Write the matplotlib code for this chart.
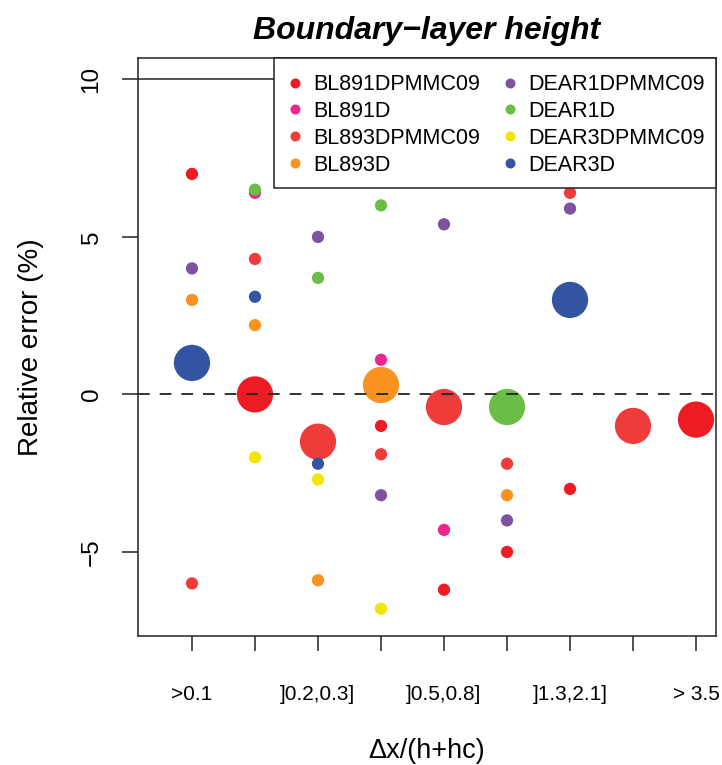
import numpy as np
import matplotlib.pyplot as plt
from matplotlib.lines import Line2D
from matplotlib.patches import Rectangle

plt.rcParams['font.family'] = ['Liberation Sans', 'DejaVu Sans']

# x categories (Δx/(h+hc) classes), only every other one is labelled
categories = [1, 2, 3, 4, 5, 6, 7, 8, 9]
tick_labels = ['>0.1', '', ']0.2,0.3]', '', ']0.5,0.8]', '', ']1.3,2.1]', '', '> 3.5']

series = ['BL891DPMMC09', 'BL891D', 'BL893DPMMC09', 'BL893D',
          'DEAR1DPMMC09', 'DEAR1D', 'DEAR3DPMMC09', 'DEAR3D']
colors = ['#ED1C24', '#EC268F', '#EF3B39', '#F7931E',
          '#7F52A1', '#6ABD45', '#F2E600', '#3353A3']

nan = np.nan
bl891dpmmc09 = [7.0, 0.0, nan, -1.0, -6.2, -5.0, -3.0, nan, -0.8]
bl891d = [nan, 6.4, nan, 1.1, -4.3, nan, nan, nan, nan]
bl893dpmmc09 = [-6.0, 4.3, -1.5, -1.9, -0.4, -2.2, 6.4, -1.0, nan]
bl893d = [3.0, 2.2, -5.9, 0.3, nan, -3.2, nan, nan, nan]
dear1dpmmc09 = [4.0, nan, 5.0, -3.2, 5.4, -4.0, 5.9, nan, nan]
dear1d = [nan, 6.5, 3.7, 6.0, nan, -0.4, nan, nan, nan]
dear3dpmmc09 = [nan, -2.0, -2.7, -6.8, nan, nan, nan, nan, nan]
dear3d = [1.0, 3.1, -2.2, nan, nan, nan, 3.0, nan, nan]
values = [bl891dpmmc09, bl891d, bl893dpmmc09, bl893d,
          dear1dpmmc09, dear1d, dear3dpmmc09, dear3d]

# best configuration in each class (drawn big)
best = ['DEAR3D', 'BL891DPMMC09', 'BL893DPMMC09', 'BL893D', 'BL893DPMMC09',
        'DEAR1D', 'DEAR3D', 'BL893DPMMC09', 'BL891DPMMC09']

fig = plt.figure(figsize=(7.22, 7.65), dpi=100)
ax = fig.add_axes([0.1911, 0.1686, 0.8006, 0.7556])

for name, col, vals in zip(series, colors, values):
    sizes = [680 if b == name else 78 for b in best]
    ax.scatter(categories, vals, s=sizes, color=col, edgecolors='none', zorder=3)

ax.axhline(0, color='#222222', lw=1.3, ls=(0, (6.5, 5.5)), zorder=4)
ax.axhline(10, color='#222222', lw=1.1, zorder=2)

ax.set_xlim(0.143, 9.317)
ax.set_ylim(-7.67, 10.68)
ax.set_xticks(categories)
ax.set_xticklabels(tick_labels, fontsize=15)
ax.set_yticks([-5, 0, 5, 10])
ax.set_yticklabels(['\u22125', '0', '5', '10'], fontsize=17.5, rotation=90, va='center')
ax.tick_params(axis='x', length=11, width=1.1, pad=24, color='#222222')
ax.tick_params(axis='y', length=11.5, width=1.1, pad=14, color='#222222')
for s in ax.spines.values():
    s.set_linewidth(1.1)
    s.set_color('#222222')

ax.set_title('Boundary\u2212layer height', fontsize=23, fontweight='bold',
             fontstyle='italic', pad=14)
ax.set_ylabel('Relative error (%)', fontsize=20, labelpad=26)
ax.set_xlabel('\u0394x/(h+hc)', fontsize=19.5, labelpad=25)

# legend box (R style, tight to the top-right corner)
box = Rectangle((0.2353, 0.7751), 0.7647, 0.2249, transform=ax.transAxes,
                facecolor='white', edgecolor='#222222', lw=1.1, zorder=5, clip_on=False)
ax.add_patch(box)
handles = [Line2D([], [], ls='none', marker='o', ms=7.2, color=c, mec='none') for c in colors]
leg = ax.legend(handles, series, ncol=2, loc='upper left', bbox_to_anchor=(0.2587, 0.972),
                borderaxespad=0, borderpad=0, frameon=False,
                fontsize=15.5, handlelength=0.7, handletextpad=0.5, columnspacing=1.05,
                labelspacing=0.27)
leg.set_zorder(6)

fig.savefig('out.png', dpi=100)
